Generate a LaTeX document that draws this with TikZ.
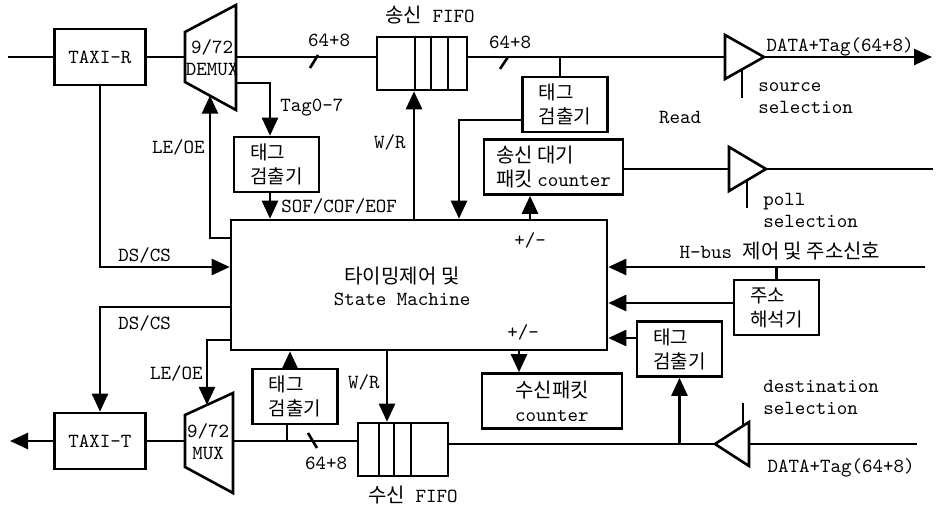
\documentclass[tikz,border=0pt]{standalone}
\usepackage{fontspec}
\usepackage{tikz}
\usetikzlibrary{arrows.meta,calc}
\newfontfamily\kr{Noto Sans CJK KR}

\begin{document}
\begin{tikzpicture}[
  x=0.5pt, y=-0.5pt,
  line width=1.3pt,
  >={Triangle[length=9pt,width=8pt]},
  every node/.style={font=\ttfamily\fontsize{10}{11}\selectfont, inner sep=1pt},
  taxibox/.style={draw, minimum width=45.5pt, minimum height=28pt},
  detbox/.style={draw, font=\kr\fontsize{9.5}{12}\selectfont, align=left,
    minimum width=42.5pt, minimum height=27.5pt},
  cntbox/.style={draw, font=\kr\fontsize{10}{12}\selectfont, align=left,
    minimum height=27.5pt},
  fifobox/.style={draw, minimum width=45pt, minimum height=26.5pt},
  krlabel/.style={font=\kr\fontsize{10}{12}\selectfont},
  sellabel/.style={anchor=west, align=left},
]
\useasboundingbox (0,0) rectangle (937,508);

% ======= Transmit side (top) =======
\node[taxibox] (taxir) at (100,57) {TAXI-R};
\coordinate (rxin) at (8,57);
\draw (rxin) -- (taxir);

% 9/72 DEMUX
\draw (185,32) -- (236,5) -- (236,110) -- (185,82) -- cycle;
\node[align=center, inner sep=0pt] (dmxlbl) at (212,58) {9/72\\DEMUX};
\coordinate (dmxin) at (185,57);
\coordinate (dmxout) at (236,57);
\coordinate (dmxtag) at (236,83);
\coordinate (dmxle) at (210,95.7);
\draw (taxir) -- (dmxin);

% FIFO
\node[fifobox] (txfifo) at (422,63.5) {};
\draw (txfifo.north -| 415,0) -- (txfifo.south -| 415,0);
\draw (txfifo.north -| 431,0) -- (txfifo.south -| 431,0);
\draw (txfifo.north -| 448,0) -- (txfifo.south -| 448,0);
\node (txfifolbl) at (430,15) {{\kr 송신} FIFO};
\draw (dmxout) -- (dmxout -| txfifo.west);
\node (bw1) at (329,40) {64+8};
\draw (310,68) -- (318,55);

% source buffer
\draw (725,35) -- (764,57) -- (725,79) -- cycle;
\coordinate (b1in) at (725,57);
\coordinate (b1out) at (764,57);
\coordinate (b1sel) at (742,69.4);
\coordinate (srcsel) at (742,98);
\coordinate (dout) at (932,57);
\draw (txfifo.east |- dmxout) -- (b1in);
\draw[->] (b1out) -- (dout);
\draw (b1sel) -- (srcsel);
\node (bw2) at (510,42) {64+8};
\draw (500,69) -- (508,57);
\node (doutlbl) at (840,47) {DATA+Tag(64+8)};
\node[sellabel] (srclbl) at (755,98) {source\\selection};

% tag detector on the output bus
\coordinate (tbus) at (560,57);
\node[detbox] (tagb) at (565,104.5) {태그\\검출기};
\draw (tbus) -- (tbus |- tagb.north);

% waiting packet counter + poll buffer
\node[cntbox, minimum width=69.5pt] (txcnt) at (553.5,167)
  {송신 대기\\패킷 {\ttfamily counter}};
\draw (729,147) -- (766,169) -- (729,191) -- cycle;
\coordinate (b2in) at (729,169);
\coordinate (b2out) at (766,169);
\coordinate (b2sel) at (747,180.3);
\coordinate (pollsel) at (747,208);
\coordinate (pout) at (933,169);
\draw (txcnt.east |- b2in) -- (b2in);
\draw (b2out) -- (pout);
\draw (b2sel) -- (pollsel);
\node[sellabel] (polllbl) at (760,210) {poll\\selection};
\node (readlbl) at (680,118) {Read};

% ======= Timing control =======
\node[draw, minimum width=188pt, minimum height=65pt] (fsm) at (419,285) {};
\node[align=center] (fsmlbl) at (402,286) {{\kr 타이밍제어 및}\\State Machine};
\node (pm1) at (530,240) {+/-};
\node (pm2) at (523,332) {+/-};

% left upper tag detector
\node[detbox] (taga) at (276.5,164.5) {태그\\검출기};
\draw[->] (dmxtag) -| (taga.north -| 270,0);
\draw[->] (taga.south -| 270,0) -- (fsm.north -| 270,0);
\node[anchor=west] (taglbl) at (277,108) {Tag0-7};
\node[anchor=west] (sof) at (278,206) {SOF/COF/EOF};

% control lines to the top
\draw[->] (taxir.south) |- (fsm.west |- 0,267);
\node[anchor=west] (dscs1) at (115,255) {DS/CS};
\draw[->] (fsm.west |- 0,238) -| (dmxle);
\node[anchor=east] (leoe1) at (208,147) {LE/OE};
\draw[->] (fsm.north -| 414,0) -- (txfifo.south -| 414,0);
\node[anchor=east] (wr1) at (409,142) {W/R};
\draw[->] (tagb.west |- 0,120) -| (fsm.north -| 459,0);
\draw[->] (fsm.north -| 530,0) -- (txcnt.south -| 530,0);

% ======= H-bus side =======
\coordinate (hbin) at (925,267);
\draw[->] (hbin) -- (fsm.east |- hbin);
\node (hbuslbl) at (780,251) {H-bus {\kr 제어 및 주소신호}};
\node[detbox] (addr) at (776.5,307.5) {주소\\해석기};
\draw (addr.north |- hbin) -- (addr.north);
\draw[->] (addr.west |- 0,303) -- (fsm.east |- 0,303);
\node[detbox] (tagc) at (679.5,349) {태그\\검출기};
\draw[->] (tagc.west |- 0,338) -- (fsm.east |- 0,338);

% ======= Receive side (bottom) =======
\draw (749,422) -- (715,444) -- (749,466) -- cycle;
\coordinate (b3in) at (749,444);
\coordinate (b3out) at (715,444);
\coordinate (b3sel) at (743,425.9);
\coordinate (destsel) at (743,403);
\coordinate (dsin) at (917,444);
\draw (dsin) -- (b3in);
\draw (b3sel) -- (destsel);
\node[sellabel] (destlbl) at (760,397) {destination\\selection};
\node (dinlbl) at (841,468) {DATA+Tag(64+8)};
\draw[->] (b3out -| tagc.south) -- (tagc.south);

% FIFO
\node[fifobox] (rxfifo) at (403,449.5) {};
\draw (rxfifo.north -| 379,0) -- (rxfifo.south -| 379,0);
\draw (rxfifo.north -| 394,0) -- (rxfifo.south -| 394,0);
\draw (rxfifo.north -| 411,0) -- (rxfifo.south -| 411,0);
\node (rxfifolbl) at (413,495) {{\kr 수신} FIFO};
\draw (b3out) -- (rxfifo.east |- b3out);

\node[cntbox, minimum width=70pt] (rxcnt) at (552,401)
  {수신패킷\\{\ttfamily counter}};
\draw[->] (fsm.south -| 519,0) -- (rxcnt.north -| 519,0);
\draw[->] (fsm.south -| 387,0) -- (rxfifo.north -| 387,0);
\node[anchor=east] (wr2) at (383,382) {W/R};

% 9/72 MUX
\draw (185,415) -- (233,393) -- (233,493) -- (185,467) -- cycle;
\node[align=center, inner sep=0pt] (mxlbl) at (208,442) {9/72\\MUX};
\coordinate (mxout) at (185,441);
\coordinate (mxin) at (233,441);
\coordinate (mxle) at (207,404.9);
\draw (rxfifo.west |- mxin) -- (mxin);
\node (bw3) at (326,463) {64+8};
\draw (308,433) -- (317,448);

% left lower tag detector
\node[detbox] (tagd) at (295,396.5) {태그\\검출기};
\coordinate (rtap) at (287,441);
\draw (rtap) -- (rtap |- tagd.south);
\draw[->] (tagd.north -| 290,0) -- (fsm.south -| 290,0);

\node[taxibox] (taxit) at (100,441) {TAXI-T};
\coordinate (txout) at (10,441);
\draw (mxout) -- (taxit);
\draw[->] (taxit) -- (txout);

% control lines to the bottom
\draw[->] (fsm.west |- 0,340) -| (mxle);
\node[anchor=east] (leoe2) at (206,373) {LE/OE};
\draw[->] (fsm.west |- 0,307) -| (taxit.north);
\node[anchor=west] (dscs2) at (115,323) {DS/CS};

\end{tikzpicture}
\end{document}
